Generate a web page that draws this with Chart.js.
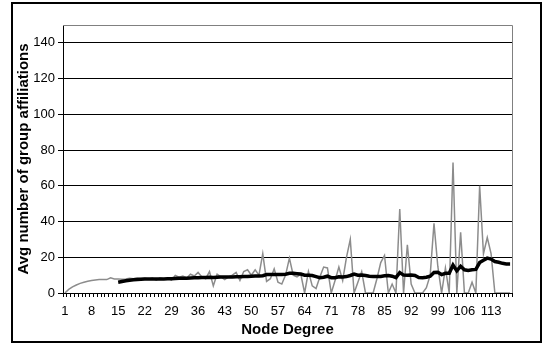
<!DOCTYPE html>
<html><head><meta charset="utf-8">
<script src="https://cdn.jsdelivr.net/npm/chart.js@4/dist/chart.umd.min.js"></script>
<style>html,body{margin:0;padding:0;background:#fff}#wrap{width:545px;height:344px;position:relative}</style>
</head><body><div id="wrap"><canvas id="c" width="545" height="344"></canvas></div>
<script>
const degrees = [1,2,3,4,5,6,7,8,9,10,11,12,13,14,15,16,17,18,19,20,21,22,23,24,25,26,27,28,29,30,
31,32,33,34,35,36,37,38,39,40,41,42,43,44,45,46,47,48,49,50,51,52,53,54,55,56,57,58,59,60,
61,62,63,64,65,66,67,68,69,70,71,72,73,74,75,76,77,78,79,80,81,82,83,84,85,86,87,88,89,90,
91,92,93,94,95,96,97,98,99,100,101,102,103,104,105,106,107,108,109,110,111,112,113,114,115,116,117,118];

const avgAffiliations = [0,2.0,3.4,4.5,5.4,6.0,6.6,7.0,7.3,7.5,7.6,7.5,8.5,7.8,7.8,7.7,7.9,8.3,8.0,8.4,
8.1,8.3,7.9,8.4,7.2,8.5,8.0,8.3,7.2,9.8,8.8,9.5,8.4,10.5,9.5,11.5,9.0,8.0,12.0,4.0,
10.5,9.0,7.5,9.0,10.0,11.5,7.0,12.0,13.0,10.0,13.0,10.0,22.0,6.5,8.0,13.5,6.0,5.0,10.0,19.5,
10.0,9.0,10.5,0,12.0,4.0,2.5,9.0,14.5,14.0,0,7.0,14.5,7.0,20.0,30.0,0,6.0,12.0,0,
0,0,8.0,17.0,21.0,0,5.0,0,47.0,0,27.0,5.0,0,0,0,3.0,10.0,39.0,15.0,0,
14.0,0,73.0,0,34.0,0,0,6.0,0,60.0,22.0,31.0,22.0,0,0,0,0,0];

const movingAvg = [null,null,null,null,null,null,null,null,null,null,null,null,null,null,
6.0,6.4,6.8,7.1,7.4,7.6,7.7,7.8,7.8,7.9,7.9,7.9,7.9,8.0,8.0,8.1,
8.2,8.3,8.3,8.4,8.5,8.6,8.7,8.7,8.8,8.7,8.8,8.9,8.9,9.0,9.0,9.1,9.1,9.2,9.3,9.4,
9.5,9.5,9.7,10.3,10.3,10.4,10.3,10.3,10.5,11.0,11.0,10.8,10.6,10.0,10.0,9.8,9.2,8.6,8.8,9.4,
8.6,8.6,9.1,9.0,9.2,9.8,10.6,10.0,10.1,9.8,9.4,9.2,9.2,9.3,9.7,9.8,9.4,8.6,11.4,10.0,
9.9,10.1,9.8,8.7,8.6,8.8,9.4,11.5,11.6,10.3,11.0,11.0,15.6,12.4,15.0,13.0,12.6,13.0,13.2,17.0,
18.3,19.5,19.0,17.6,17.2,16.6,16.3,16.3];

const yTicks = [0,20,40,60,80,100,120,140];
const labelEvery = 7;

const frame = {
  id: 'frame',
  afterDraw(chart) {
    const {ctx, chartArea: a} = chart;
    ctx.save();
    ctx.strokeStyle = '#808080';
    ctx.lineWidth = 1;
    ctx.beginPath();
    ctx.moveTo(a.left, a.top + 0.5);
    ctx.lineTo(a.right + 0.5, a.top + 0.5);
    ctx.lineTo(a.right + 0.5, a.bottom);
    ctx.stroke();
    ctx.strokeStyle = '#000';
    ctx.lineWidth = 2;
    ctx.strokeRect(12, 3, 529, 339);
    ctx.restore();
  }
};

const FONT = '"Liberation Sans", Arial, sans-serif';

new Chart(document.getElementById('c'), {
  type: 'line',
  data: {
    labels: degrees,
    datasets: [
      {data: movingAvg, borderColor: '#000', borderWidth: 3.5, pointRadius: 0, tension: 0, order: 0},
      {data: avgAffiliations, borderColor: '#8c8c8c', borderWidth: 1.5, pointRadius: 0, tension: 0, order: 1}
    ]
  },
  options: {
    responsive: false,
    animation: false,
    devicePixelRatio: 1,
    layout: {padding: {left: 15, top: 25, right: 33, bottom: 5}},
    plugins: {legend: {display: false}, tooltip: {enabled: false}},
    scales: {
      x: {
        type: 'category',
        offset: true,
        grid: {display: true, drawOnChartArea: false, drawTicks: true, tickLength: 4, color: '#000', offset: true},
        border: {display: true, color: '#000', width: 1},
        ticks: {
          autoSkip: false, maxRotation: 0, minRotation: 0, padding: 7,
          color: '#000', font: {family: FONT, size: 13},
          callback: function(v, i) { return i % labelEvery === 0 ? String(degrees[i]) : ''; }
        },
        title: {display: true, text: 'Node Degree', color: '#000',
          font: {family: FONT, size: 15, weight: 'bold'}, padding: {top: 0, bottom: 0}},
        afterFit: s => { s.height = 46; }
      },
      y: {
        min: 0, max: 150,
        afterBuildTicks: s => { s.ticks = yTicks.map(v => ({value: v})); },
        grid: {color: '#000', lineWidth: 1, tickLength: 5, drawTicks: true},
        border: {display: true, color: '#000', width: 1},
        ticks: {padding: 3, color: '#000', font: {family: FONT, size: 13}},
        title: {display: true, text: 'Avg number of group affiliations', color: '#000',
          font: {family: FONT, size: 15, weight: 'bold'}, padding: {top: 0, bottom: 0}},
        afterFit: s => { s.width = 48; }
      }
    }
  },
  plugins: [frame]
});
</script></body></html>
